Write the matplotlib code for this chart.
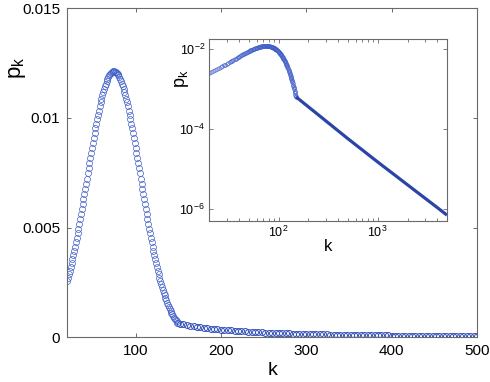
import numpy as np
import matplotlib
matplotlib.use('Agg')
import matplotlib.pyplot as plt
from matplotlib.ticker import FixedLocator, NullLocator, LogLocator

plt.rcParams['font.family'] = ['Liberation Sans', 'DejaVu Sans']
plt.rcParams['mathtext.fontset'] = 'custom'
plt.rcParams['mathtext.rm'] = 'Liberation Sans'
plt.rcParams['mathtext.it'] = 'Liberation Sans:italic'

# degree distribution p_k
# bell part, one point per k from 20 to 150
k_bell = np.arange(20, 151)
p_bell = [
    0.00258, 0.00273, 0.00289, 0.00305, 0.00322, 0.00339, 0.00356, 0.00375, 0.00393, 0.00413,
    0.00433, 0.00453, 0.00474, 0.00495, 0.00516, 0.00538, 0.00561, 0.00583, 0.00606, 0.00629,
    0.00652, 0.00676, 0.00700, 0.00723, 0.00747, 0.00771, 0.00794, 0.00818, 0.00841, 0.00864,
    0.00887, 0.00909, 0.00931, 0.00953, 0.00974, 0.00994, 0.01014, 0.01033, 0.01052, 0.01070,
    0.01086, 0.01102, 0.01117, 0.01131, 0.01144, 0.01156, 0.01167, 0.01177, 0.01186, 0.01193,
    0.01199, 0.01204, 0.01208, 0.01211, 0.01212,
    0.01212, 0.01211, 0.01208, 0.01204, 0.01199, 0.01193, 0.01186, 0.01177, 0.01167, 0.01156,
    0.01144, 0.01131, 0.01117, 0.01102, 0.01086, 0.01070, 0.01052, 0.01033, 0.01014, 0.00994,
    0.00974, 0.00953, 0.00931, 0.00909, 0.00887, 0.00864, 0.00841, 0.00818, 0.00794, 0.00771,
    0.00747, 0.00723, 0.00700, 0.00676, 0.00652, 0.00629, 0.00606, 0.00583, 0.00561, 0.00538,
    0.00516, 0.00495, 0.00474, 0.00453, 0.00433, 0.00413, 0.00393, 0.00375, 0.00356, 0.00339,
    0.00322, 0.00305, 0.00289, 0.00273, 0.00258, 0.00244, 0.00230, 0.00217, 0.00204, 0.00192,
    0.00180, 0.00169, 0.00159, 0.00149, 0.00139, 0.00130, 0.00121, 0.00113, 0.00105, 0.00098,
    0.00091, 0.00085, 0.00079, 0.00073, 0.00068, 0.00064,
]

# power-law tail up to k = 500
k_tail = np.arange(152, 501, 4)
p_tail = [
    6.23e-4, 5.92e-4, 5.63e-4, 5.35e-4, 5.10e-4, 4.87e-4, 4.65e-4, 4.44e-4, 4.25e-4, 4.07e-4,
    3.91e-4, 3.75e-4, 3.60e-4, 3.46e-4, 3.33e-4, 3.20e-4, 3.09e-4, 2.98e-4, 2.87e-4, 2.77e-4,
    2.68e-4, 2.59e-4, 2.50e-4, 2.42e-4, 2.34e-4, 2.27e-4, 2.20e-4, 2.13e-4, 2.07e-4, 2.00e-4,
    1.95e-4, 1.89e-4, 1.84e-4, 1.79e-4, 1.74e-4, 1.69e-4, 1.64e-4, 1.60e-4, 1.56e-4, 1.52e-4,
    1.48e-4, 1.44e-4, 1.41e-4, 1.37e-4, 1.34e-4, 1.31e-4, 1.28e-4, 1.25e-4, 1.22e-4, 1.19e-4,
    1.16e-4, 1.14e-4, 1.11e-4, 1.09e-4, 1.06e-4, 1.04e-4, 1.02e-4, 9.97e-5, 9.77e-5, 9.57e-5,
    9.37e-5, 9.18e-5, 9.00e-5, 8.82e-5, 8.65e-5, 8.48e-5, 8.32e-5, 8.16e-5, 8.01e-5, 7.86e-5,
    7.72e-5, 7.58e-5, 7.44e-5, 7.30e-5, 7.17e-5, 7.05e-5, 6.93e-5, 6.81e-5, 6.69e-5, 6.57e-5,
    6.46e-5, 6.36e-5, 6.25e-5, 6.15e-5, 6.05e-5, 5.95e-5, 5.85e-5, 5.76e-5,
]

# tail beyond 500, only in the inset
k_far = [550, 600, 700, 800, 1000, 1200, 1500, 2000, 2500, 3000, 4000, 5000]
p_far = [4.79e-5, 4.04e-5, 3.0e-5, 2.31e-5, 1.5e-5, 1.06e-5, 6.95e-6, 4.02e-6,
         2.63e-6, 1.86e-6, 1.08e-6, 7.0e-7]

blue = '#3f5ec8'
spine_col = '#6a6a6a'

fig = plt.figure(figsize=(4.9, 3.82), dpi=100)
ax = fig.add_axes([0.1373, 0.1165, 0.836, 0.8625])

ax.plot(k_bell, p_bell, 'o', ms=4.3, mfc='none', mec=blue, mew=0.5)
ax.plot(k_tail, p_tail, 'o', ms=4.3, mfc='none', mec='#3350b8', mew=0.7)

ax.set_xlim(20, 500)
ax.set_ylim(0, 0.015)
ax.set_xticks([100, 200, 300, 400, 500])
ax.set_yticks([0, 0.005, 0.01, 0.015])
ax.set_yticklabels(['0', '0.005', '0.01', '0.015'])
ax.tick_params(direction='in', top=True, right=True, length=3, width=0.7,
               color=spine_col, labelsize=11, pad=5)
for s in ax.spines.values():
    s.set_color(spine_col)
    s.set_linewidth(0.8)

ax.set_xlabel('k', fontsize=14)
ax.xaxis.set_label_coords(0.5, -0.075)
ax.set_ylabel(r'$\mathrm{p}_\mathrm{k}$', fontsize=16)
ax.yaxis.set_label_coords(-0.095, 0.82)

# inset, log-log
ins = fig.add_axes([0.4271, 0.4215, 0.4851, 0.4764])
ins.loglog(k_bell, p_bell, 'o', ms=2.6, mfc='none', mec=blue, mew=0.45)
k_line = np.concatenate([k_bell[-1:], k_tail, k_far])
p_line = np.concatenate([p_bell[-1:], p_tail, p_far])
ins.loglog(k_line, p_line, '-', color='#2a44a8', lw=2.3, solid_capstyle='butt')

ins.set_xlim(20, 5000)
ins.set_ylim(5e-7, 0.018)
ins.xaxis.set_major_locator(FixedLocator([100, 1000]))
ins.xaxis.set_minor_locator(LogLocator(base=10, subs=np.arange(2, 10), numticks=20))
ins.yaxis.set_major_locator(FixedLocator([1e-6, 1e-4, 1e-2]))
ins.yaxis.set_minor_locator(NullLocator())
ins.tick_params(which='both', direction='in', top=True, right=True, color=spine_col,
                width=0.6, labelsize=9, pad=3)
ins.tick_params(which='major', length=3)
ins.tick_params(which='minor', length=2)
for s in ins.spines.values():
    s.set_color(spine_col)
    s.set_linewidth(0.8)

ins.set_xlabel('k', fontsize=12)
ins.xaxis.set_label_coords(0.5, -0.1)
ins.set_ylabel(r'$\mathrm{p}_\mathrm{k}$', fontsize=13)
ins.yaxis.set_label_coords(-0.075, 0.78)

fig.savefig('out.png', dpi=100)
